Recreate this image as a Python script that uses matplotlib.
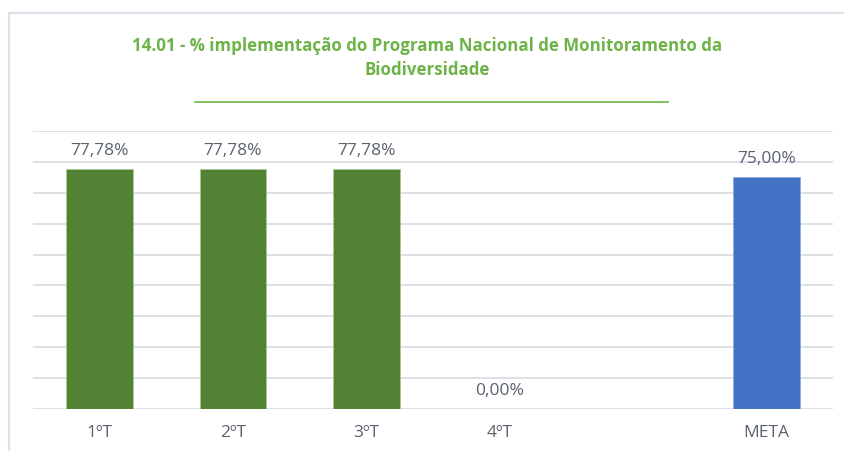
import matplotlib
matplotlib.use('Agg')
import matplotlib.pyplot as plt
from matplotlib.lines import Line2D
from matplotlib.patches import Rectangle

categorias = ['1ºT', '2ºT', '3ºT', '4ºT', '', 'META']
valores = [77.78, 77.78, 77.78, 0.0, None, 75.0]
cores = ['#548235', '#548235', '#548235', '#548235', '#548235', '#4472C4']

plt.rcParams['font.family'] = ['Open Sans', 'DejaVu Sans']

fig = plt.figure(figsize=(8.44, 4.51), dpi=100)
ax = fig.add_axes([33 / 844, 42 / 451, 800 / 844, 278 / 451])

x = list(range(len(categorias)))
for i, v in enumerate(valores):
    if v is None:
        continue
    ax.bar(i, v, width=0.5, color=cores[i], edgecolor='#a9c98f' if i < 4 else '#8fa9dc',
           linewidth=0.6, zorder=3)
    ax.text(i, v + 3.3, f'{v:.2f}%'.replace('.', ','), ha='center', va='bottom',
            fontsize=12.5, color='#5a6170')

ax.set_xlim(-0.5, len(categorias) - 0.5)
ax.set_ylim(0, 90)
ax.set_yticks(range(0, 91, 10))
ax.yaxis.grid(True, color='#dadde5', linewidth=1.3, zorder=0)
ax.tick_params(left=False, labelleft=False, bottom=False)
ax.set_xticks(x)
ax.set_xticklabels(categorias, fontsize=12.5, color='#5a6170')
ax.tick_params(axis='x', pad=8)
for s in ax.spines.values():
    s.set_visible(False)

fig.text(0.506, 0.899, '14.01 - % implementação do Programa Nacional de Monitoramento da',
         ha='center', va='center', fontsize=12.2, fontweight='bold', color='#6db348')
fig.text(0.506, 0.845, 'Biodiversidade', ha='center', va='center', fontsize=12.2,
         fontweight='bold', color='#6db348')
fig.add_artist(Line2D([195 / 844, 668 / 844], [1 - 102 / 451, 1 - 102 / 451],
                      color='#6db348', linewidth=1.2))

fig.add_artist(Rectangle((9 / 844, -0.05), 1.0, 1 - 13 / 451 + 0.05, fill=False,
                         edgecolor='#dde1ea', linewidth=1.5))

fig.savefig('out.png', dpi=100)
